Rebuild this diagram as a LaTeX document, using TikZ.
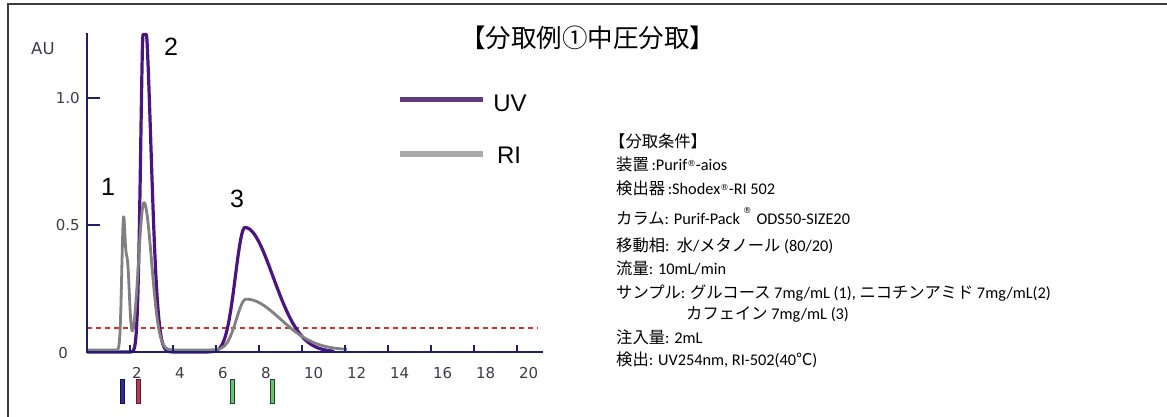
\documentclass[tikz,border=0pt]{standalone}
\usepackage{fontspec}
\setmainfont{Carlito}
\newfontfamily\jp{Noto Sans CJK JP}
\newfontfamily\arial{Liberation Sans}
\newfontfamily\verd{DejaVu Sans}
\definecolor{uvline}{RGB}{75,20,130}
\definecolor{uvkey}{RGB}{95,60,125}
\definecolor{riline}{RGB}{128,128,128}
\definecolor{rikey}{RGB}{170,170,170}
\definecolor{axisblue}{RGB}{30,30,110}
\definecolor{ticktext}{RGB}{60,60,70}
\definecolor{cutred}{RGB}{222,45,45}
\tikzstyle{frame} = [draw={rgb,255:red,60;green,60;blue,60}, line width=2pt]
\tikzstyle{axis} = [draw=axisblue, line width=1.8pt]
\tikzstyle{axistick} = [draw=axisblue, line width=1.5pt]
\tikzstyle{ticklabel} = [font={\verd\fontsize{15}{15}\selectfont}, text=ticktext, inner sep=0pt]
\tikzstyle{peaklabel} = [font={\arial\fontsize{25}{25}\selectfont}, inner sep=0pt]
\tikzstyle{legendlabel} = [font={\arial\fontsize{24}{24}\selectfont}, inner sep=0pt]
\tikzstyle{cond} = [font={\fontsize{16.3}{16.3}\selectfont}, anchor=base west, inner sep=0pt]
\tikzstyle{uvcurve} = [draw=uvline, line width=3.2pt, line join=round]
\tikzstyle{ricurve} = [draw=riline, line width=2.8pt, line join=round]
\tikzstyle{threshold} = [draw=cutred, line width=1.5pt, dash pattern=on 5pt off 4pt]
\tikzstyle{frac} = [line width=0.8pt, minimum width=4pt, minimum height=24pt, inner sep=0pt]
\newcommand{\regsup}[1]{\raisebox{#1}{\verd\fontsize{8.5}{8.5}\selectfont ®}}

\begin{document}
\begin{tikzpicture}[x=1pt,y=-1pt,
    declare function={
      bg(\t,\m,\a,\b)=exp(-0.5*(min(abs(\t-\m)/(\a*(\t<\m)+\b*(1-(\t<\m))),6))^2);
      uv(\t)=min(1.25,1.35*bg(\t,2.65,0.15,0.32)+0.49*bg(\t,7.35,0.45,1.3));
      ri(\t)=0.008+0.45*bg(\t,1.69,0.08,0.07)+0.34*bg(\t,1.87,0.1,0.1)+0.58*bg(\t,2.65,0.25,0.35)+0.2*bg(\t,7.4,0.45,1.6);
    }]
    \useasboundingbox (0,0) rectangle (1167,417);
    % outer frame
    \coordinate (frametl) at (8,4);
    \draw[frame] (8,417) -- (frametl) -- (1167,4);
    % title
    \node[font={\jp\fontsize{25.5}{25.5}\selectfont}, inner sep=0pt] (title) at (587.5,38) {【分取例①中圧分取】};

    % chromatogram
    \begin{scope}[shift={(87,352)}, x=21.5pt, y=254pt]
      \draw[threshold] (0,0.095) -- (20.98,0.095);
      \draw[uvcurve] plot[domain=0:11.5, samples=500] (\x,{uv(\x)});
      \draw[ricurve] plot[domain=0:12.1, samples=500] (\x,{ri(\x)});
      \coordinate (origin) at (0,0);
      \coordinate (ytop) at (0,1.256);
      \coordinate (xend) at (21.2,0);
      \draw[axis] (ytop) -- (origin) -- (xend);
      \foreach \t in {2,4,...,20} {
        \draw[axistick] (\t,0) -- (\t,0.0276);
        \node[ticklabel, anchor=west] (xl\t) at ([xshift=2pt]\t,-0.083) {\t};
      }
      \foreach \v/\lab in {0.5/0.5, 1.0/1.0} {
        \draw[axistick] (0,\v) -- (0.6,\v);
        \node[ticklabel, anchor=east] (yl\lab) at (-0.33,\v) {\lab};
      }
      \node[ticklabel, anchor=east] (yl0) at (-0.88,-0.004) {0};
      \node[ticklabel, font={\verd\fontsize{16.5}{16.5}\selectfont}] (au) at (-2.05,1.195) {AU};
    \end{scope}

    % peak numbers
    \node[peaklabel] (p1) at (108,187) {1};
    \node[peaklabel] (p2) at (171,47) {2};
    \node[peaklabel] (p3) at (237,199) {3};

    % fraction marks
    \node[frac, fill={rgb,255:red,45;green,45;blue,150}, draw={rgb,255:red,20;green,20;blue,60}] (cut1) at (122,391) {};
    \node[frac, fill={rgb,255:red,180;green,60;blue,90}, draw={rgb,255:red,90;green,30;blue,40}] (cut2) at (138,391) {};
    \node[frac, fill={rgb,255:red,110;green,190;blue,120}, draw={rgb,255:red,30;green,70;blue,40}] (cut3) at (232.5,391) {};
    \node[frac, fill={rgb,255:red,110;green,190;blue,120}, draw={rgb,255:red,30;green,70;blue,40}] (cut4) at (272.5,391) {};

    % legend
    \coordinate (uvkeya) at (400,100);
    \coordinate (uvkeyb) at (483,100);
    \draw[draw=uvkey, line width=5pt] (uvkeya) -- (uvkeyb);
    \node[legendlabel] (uvlabel) at (510,103) {UV};
    \coordinate (rikeya) at (400,154);
    \coordinate (rikeyb) at (483,154);
    \draw[draw=rikey, line width=5pt] (rikeya) -- (rikeyb);
    \node[legendlabel] (rilabel) at (509,155) {RI};

    % conditions
    \node[cond] (c0) at (609,148) {\jp 【分取条件】};
    \node[cond] (c1) at (616,171) {{\jp 装置}\,:Purif\regsup{4pt}-aios};
    \node[cond] (c2) at (616,194) {{\jp 検出器}\,:Shodex\regsup{4pt}-RI 502};
    \node[cond] (c3) at (616,224) {{\jp カラム}: Purif-Pack\hspace{3pt}\regsup{11pt}\hspace{5pt}ODS50-SIZE20};
    \node[cond] (c4) at (616,251) {{\jp 移動相}:\ \ {\jp 水}/{\jp メタノール} (80/20)};
    \node[cond] (c5) at (616,274) {{\jp 流量}: 10mL/min};
    \node[cond] (c6) at (616,298) {{\jp サンプル}: {\jp グルコース} 7mg/mL (1), {\jp ニコチンアミド} 7mg/mL(2)};
    \node[cond] (c7) at (686,319) {{\jp カフェイン} 7mg/mL (3)};
    \node[cond] (c8) at (616,343) {{\jp 注入量}: 2mL};
    \node[cond] (c9) at (616,365) {{\jp 検出}: UV254nm, RI-502(40{\jp ℃})};
\end{tikzpicture}
\end{document}
